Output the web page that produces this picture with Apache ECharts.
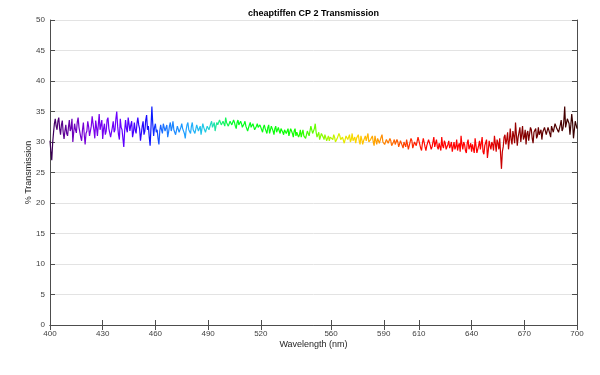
<!DOCTYPE html>
<html>
<head>
<meta charset="utf-8">
<script src="https://cdn.jsdelivr.net/npm/echarts@6/dist/echarts.min.js"></script>
<style>
  html, body { margin: 0; padding: 0; background: #fff; }
  #chart { width: 600px; height: 375px; }
</style>
</head>
<body>
<div id="chart"></div>
<script>
// wavelength start and step (nm)
const startNm = 400;
const stepNm = 0.5;

// % transmission, one row per 10 nm (400..700)
const transmission = [
  30.2, 28.4, 27.0, 29.8, 31.5, 33.0, 33.8, 32.6, 32.0, 33.4, 34.0, 32.2, 31.2, 32.8, 33.5, 31.6, 30.5, 31.8, 32.8, 31.4,
  31.0, 32.4, 33.6, 31.8, 32.2, 33.8, 30.0, 31.6, 33.0, 32.0, 31.5, 33.2, 34.0, 32.4, 32.6, 30.8, 30.2, 32.0, 33.2, 31.2,
  29.6, 31.4, 31.8, 33.4, 32.5, 31.0, 30.8, 32.6, 34.2, 33.0, 32.0, 30.6, 33.5, 32.4, 31.0, 32.8, 34.6, 32.0, 32.2, 33.6,
  30.5, 32.2, 33.0, 31.2, 31.8, 33.6, 34.0, 32.2, 32.4, 30.8, 30.6, 32.4, 33.4, 31.6, 32.0, 33.8, 35.0, 32.6, 31.2, 30.4,
  33.8, 32.4, 32.0, 30.6, 29.2, 31.8, 33.6, 32.2, 31.6, 34.0, 34.2, 31.8, 32.8, 33.4, 30.8, 31.6, 33.2, 32.0, 31.4, 33.0,
  34.0, 32.8, 32.2, 30.2, 30.4, 32.6, 33.4, 31.2, 31.8, 33.6, 34.4, 32.0, 32.6, 30.8, 29.4, 32.4, 35.8, 33.0, 31.0, 32.4,
  33.0, 31.6, 32.0, 30.6, 29.6, 31.8, 32.8, 32.0, 31.4, 33.0, 33.2, 31.8, 32.0, 32.8, 30.8, 31.6, 32.6, 33.2, 31.8, 32.4,
  33.4, 32.0, 32.2, 31.2, 31.0, 32.6, 32.8, 31.6, 31.6, 32.4, 33.0, 32.2, 32.4, 31.4, 30.6, 32.0, 32.8, 33.2, 32.0, 31.8,
  31.4, 32.6, 33.2, 32.0, 32.2, 31.4, 31.6, 32.8, 32.8, 31.8, 32.0, 32.6, 31.2, 32.2, 33.0, 32.4, 32.4, 31.6, 31.8, 32.6,
  32.8, 32.0, 32.2, 33.0, 33.4, 32.4, 32.6, 33.2, 31.8, 32.6, 33.2, 32.8, 32.6, 33.6, 33.8, 32.8, 32.8, 33.4, 33.4, 32.6,
  34.0, 33.2, 33.0, 32.6, 32.4, 33.4, 33.6, 32.8, 32.8, 33.6, 33.2, 32.6, 32.2, 33.2, 33.6, 32.8, 32.6, 33.4, 33.0, 32.4,
  32.2, 33.0, 33.4, 32.6, 32.6, 31.8, 31.8, 32.8, 33.2, 32.4, 32.4, 33.0, 32.8, 32.0, 31.8, 32.6, 33.0, 32.4, 32.2, 32.8,
  32.6, 32.0, 31.6, 32.4, 32.8, 32.2, 32.0, 31.4, 32.4, 32.8, 31.4, 32.0, 32.6, 32.2, 31.8, 31.2, 32.2, 32.6, 31.6, 31.8,
  32.4, 31.8, 31.4, 32.2, 32.0, 31.6, 31.2, 32.0, 32.2, 31.4, 31.6, 32.2, 31.0, 31.6, 32.2, 31.8, 31.4, 30.8, 31.8, 32.2,
  31.0, 31.6, 31.8, 30.8, 31.2, 32.0, 30.8, 31.4, 32.0, 31.0, 31.2, 30.6, 30.6, 31.8, 31.6, 31.0, 31.0, 32.6, 32.4, 31.4,
  31.2, 32.2, 33.0, 31.6, 30.8, 31.2, 31.6, 30.4, 30.6, 31.4, 31.2, 30.8, 30.4, 31.2, 31.0, 30.2, 30.6, 31.0, 30.2, 30.8,
  31.0, 30.6, 30.4, 31.2, 30.8, 30.0, 29.8, 30.6, 30.6, 31.4, 31.0, 30.4, 30.2, 30.8, 30.8, 29.8, 30.4, 31.0, 31.2, 30.4,
  30.6, 31.2, 30.0, 30.4, 31.4, 30.2, 30.4, 30.8, 29.8, 30.6, 30.8, 31.2, 30.2, 29.6, 31.0, 30.4, 29.6, 30.2, 30.6, 31.0,
  30.2, 30.8, 31.4, 30.0, 29.8, 30.4, 30.6, 31.0, 30.0, 29.4, 31.0, 30.2, 29.6, 30.6, 30.4, 29.8, 29.8, 30.8, 31.2, 30.0,
  30.0, 29.6, 29.4, 30.4, 30.6, 29.8, 29.8, 30.6, 30.2, 29.4, 29.2, 30.0, 30.4, 29.6, 29.6, 30.4, 30.0, 29.2, 29.4, 30.2,
  30.2, 29.4, 29.0, 30.0, 29.8, 29.2, 30.4, 29.6, 28.8, 29.4, 29.6, 30.6, 30.2, 29.0, 29.2, 30.0, 30.0, 29.4, 29.4, 30.8,
  30.6, 29.6, 29.0, 28.6, 29.8, 30.6, 30.4, 29.2, 28.6, 29.4, 29.6, 30.4, 30.2, 29.4, 28.8, 29.2, 30.0, 30.8, 29.2, 29.8,
  30.4, 29.2, 28.8, 29.8, 29.6, 28.6, 30.8, 29.4, 29.0, 30.2, 29.8, 28.8, 28.6, 29.6, 30.2, 29.0, 29.4, 30.0, 28.4, 29.2,
  30.0, 28.8, 29.2, 30.4, 28.6, 29.4, 29.8, 28.4, 31.0, 29.6, 28.8, 30.0, 29.6, 28.6, 28.2, 29.8, 30.4, 28.8, 29.0, 29.8,
  28.4, 29.6, 29.8, 28.2, 30.6, 29.4, 28.2, 28.8, 29.4, 30.2, 28.8, 29.0, 30.8, 28.4, 28.0, 29.4, 29.6, 30.4, 27.4, 28.6,
  30.2, 29.4, 28.8, 30.0, 29.6, 28.6, 31.0, 29.8, 28.4, 30.4, 29.8, 28.8, 30.6, 28.0, 25.6, 28.4, 29.2, 30.8, 31.2, 29.6,
  30.4, 31.6, 28.8, 30.2, 32.2, 30.4, 29.6, 31.8, 31.0, 29.8, 33.2, 31.2, 29.4, 30.8, 31.6, 32.4, 30.0, 31.2, 32.6, 30.4,
  30.8, 32.0, 29.6, 31.4, 31.8, 30.2, 30.4, 32.4, 32.0, 30.6, 29.8, 31.6, 31.4, 32.2, 30.6, 31.0, 32.4, 31.2, 31.0, 32.0,
  30.4, 31.6, 31.8, 32.4, 32.6, 31.2, 31.0, 32.4, 32.2, 31.4, 30.8, 32.6, 32.8, 31.6, 31.6, 33.0, 33.0, 32.2, 32.0, 31.6,
  31.4, 32.8, 33.6, 31.8, 32.2, 33.4, 35.8, 32.4, 32.6, 33.8, 34.0, 33.0, 31.2, 32.8, 34.6, 33.2, 30.6, 32.0, 33.4, 32.8,
  32.2
];

// x tick labels (not evenly spaced in the original)
const xTicks = [400, 430, 460, 490, 520, 560, 590, 610, 640, 670, 700];

// spectrum colour stops: [wavelength, colour]
const spectrumStops = [
  [400, "#2a0038"], [405, "#4a0070"], [415, "#7000c0"], [425, "#7a00e8"],
  [440, "#6a00ff"], [450, "#4000ff"], [458, "#0a10ff"], [465, "#1a70ff"],
  [480, "#20a8ff"], [490, "#20d0e0"], [497, "#20f080"], [505, "#00ff20"],
  [540, "#10ff00"], [552, "#70ff00"], [565, "#e0f000"], [575, "#ffd000"],
  [585, "#ffa000"], [595, "#ff6800"], [607, "#ff2000"], [615, "#ff0000"],
  [645, "#ff0000"], [655, "#d00000"], [665, "#900000"], [680, "#600000"],
  [700, "#300000"]
];

const seriesData = transmission.map((v, i) => [startNm + i * stepNm, v]);

const chart = echarts.init(document.getElementById("chart"));

const axisColor = "#4d4d4d";
const fontFamily = "Liberation Sans, Arial, sans-serif";
const labelStyle = { color: "#404040", fontSize: 8, fontFamily };

const option = {
  animation: false,
  backgroundColor: "#fff",
  title: {
    text: "cheaptiffen CP 2 Transmission",
    left: 243,
    top: 4,
    textStyle: { fontSize: 9, fontWeight: "bold", color: "#000", fontFamily }
  },
  grid: { left: 50, right: 23, top: 20, bottom: 50 },
  xAxis: [
    {
      type: "value",
      min: 400,
      max: 700,
      position: "bottom",
      name: "Wavelength (nm)",
      nameLocation: "middle",
      nameGap: 15,
      nameMoveOverlap: false,
      nameTextStyle: { fontSize: 9, color: "#262626", fontFamily },
      axisLine: { lineStyle: { color: axisColor, width: 1 } },
      axisTick: { inside: true, length: 5, customValues: xTicks, lineStyle: { color: axisColor } },
      axisLabel: { customValues: xTicks, margin: 5, ...labelStyle },
      splitLine: { show: false }
    },
    {
      type: "value",
      min: 400,
      max: 700,
      position: "top",
      axisLine: { lineStyle: { color: axisColor, width: 1 } },
      axisTick: { inside: true, length: 5, customValues: xTicks, lineStyle: { color: axisColor } },
      axisLabel: { show: false },
      splitLine: { show: false }
    }
  ],
  yAxis: [
    {
      type: "value",
      min: 0,
      max: 50,
      interval: 5,
      position: "left",
      name: "% Transmission",
      nameLocation: "middle",
      nameGap: 17,
      nameMoveOverlap: false,
      nameTextStyle: { fontSize: 9, color: "#262626", fontFamily },
      axisLine: { show: true, lineStyle: { color: axisColor, width: 1 } },
      axisTick: { show: true, inside: true, length: 5, lineStyle: { color: axisColor } },
      axisLabel: { margin: 5, ...labelStyle },
      splitLine: { show: true, lineStyle: { color: "#e3e3e3", width: 1 } }
    },
    {
      type: "value",
      min: 0,
      max: 50,
      interval: 5,
      position: "right",
      axisLine: { show: true, lineStyle: { color: axisColor, width: 1 } },
      axisTick: { show: true, inside: true, length: 5, lineStyle: { color: axisColor } },
      axisLabel: { show: false },
      splitLine: { show: false }
    }
  ],
  series: [
    {
      type: "line",
      xAxisIndex: 0,
      yAxisIndex: 0,
      data: seriesData,
      showSymbol: false,
      symbol: "none",
      sampling: null,
      lineStyle: {
        width: 1.2,
        color: new echarts.graphic.LinearGradient(0, 0, 1, 0,
          spectrumStops.map(([nm, c]) => ({ offset: (nm - 400) / 300, color: c })))
      }
    }
  ]
};

chart.setOption(option);
</script>
</body>
</html>
